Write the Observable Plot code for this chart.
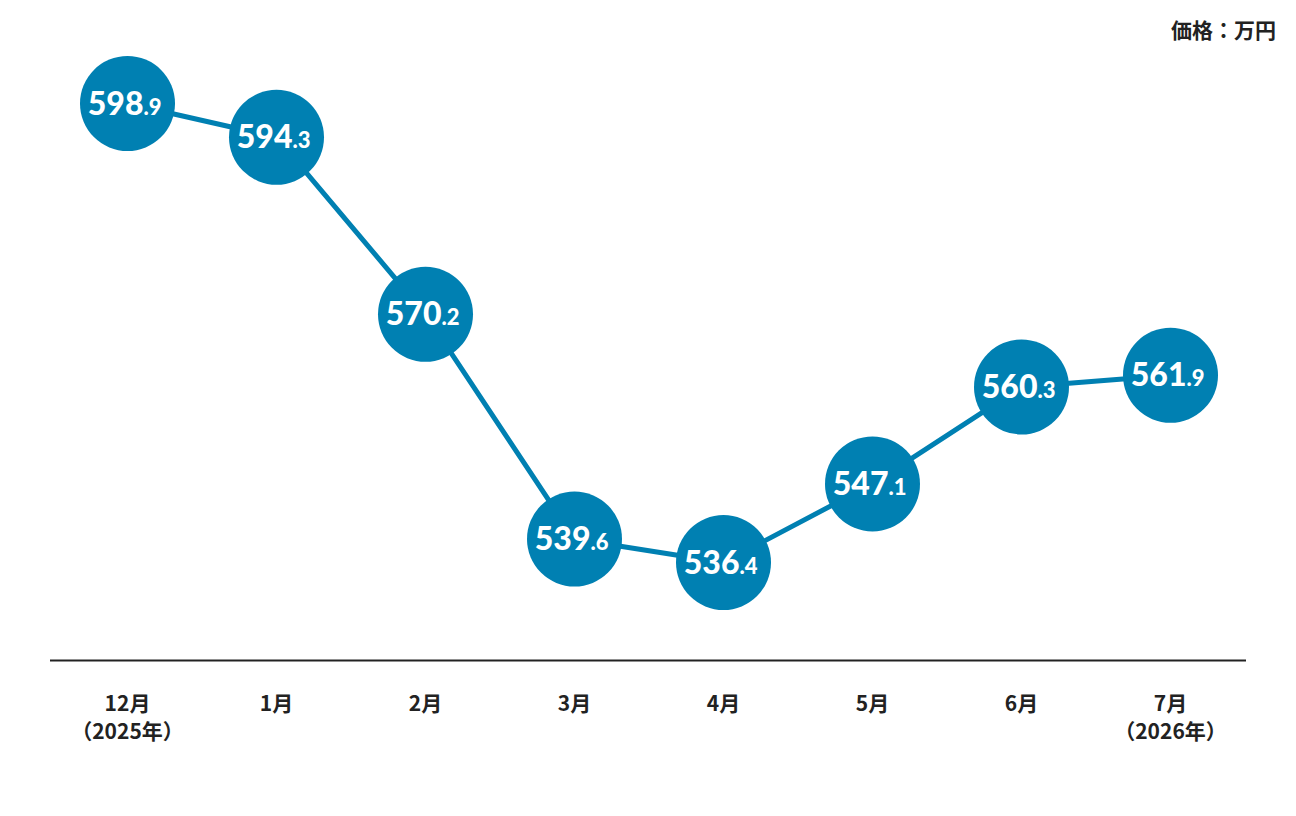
<!DOCTYPE html>
<html>
<head>
<meta charset="utf-8">
<script src="https://cdn.jsdelivr.net/npm/d3@7"></script>
<script src="https://cdn.jsdelivr.net/npm/@observablehq/plot@0.6"></script>
<style>
  html, body { margin: 0; padding: 0; background: #fff; }
  #wrap { position: relative; width: 1296px; height: 816px; }
  #unit { position: absolute; right: 20px; top: 17px; font-family: "Noto Sans CJK JP", sans-serif; font-weight: 700; font-size: 21px; line-height: 1.2; color: #222; }
</style>
</head>
<body>
<div id="wrap"><div id="unit">価格：万円</div><div id="chart"></div></div>
<script>
const months = ["12月", "1月", "2月", "3月", "4月", "5月", "6月", "7月"];
const years = ["（2025年）", "", "", "", "", "", "", "（2026年）"];
const prices = [598.9, 594.3, 570.2, 539.6, 536.4, 547.1, 560.3, 561.9];

const data = months.map((m, i) => ({ month: m, price: prices[i] }));
const color = "#0080B2";
const yMin = 523.06;

const chart = Plot.plot({
  width: 1296,
  height: 816,
  marginLeft: 50,
  marginRight: 50,
  marginTop: 103,
  marginBottom: 156,
  x: { type: "point", domain: months, padding: 0.5 },
  y: { domain: [yMin, 598.9], axis: null },
  style: { fontFamily: "'Noto Sans CJK JP', sans-serif" },
  marks: [
    Plot.ruleY([yMin], { stroke: "#222", strokeWidth: 2 }),
    Plot.line(data, { x: "month", y: "price", stroke: color, strokeWidth: 5 }),
    Plot.dot(data, { x: "month", y: "price", r: 47.5, fill: color, stroke: "none" }),
    Plot.text(data, {
      x: "month", y: "price",
      text: d => String(Math.floor(d.price)),
      textAnchor: "end", lineAnchor: "bottom", dx: 16, dy: 11,
      fill: "white", fontSize: 32, fontWeight: 900,
      fontFamily: "Lato, 'Noto Sans', sans-serif"
    }),
    Plot.text(data, {
      x: "month", y: "price",
      text: d => "." + d.price.toFixed(1).split(".")[1],
      textAnchor: "start", lineAnchor: "bottom", dx: 16, dy: 11,
      fill: "white", fontSize: 22, fontWeight: 900,
      fontFamily: "Lato, 'Noto Sans', sans-serif"
    }),
    Plot.axisX({
      tickSize: 0,
      tickPadding: 31,
      label: null,
      fontSize: 21,
      fontWeight: 700,
      fill: "#222",
      lineHeight: 1.33,
      tickFormat: m => years[months.indexOf(m)] ? m + "\n" + years[months.indexOf(m)] : m
    })
  ]
});
document.getElementById("chart").appendChild(chart);
</script>
</body>
</html>
